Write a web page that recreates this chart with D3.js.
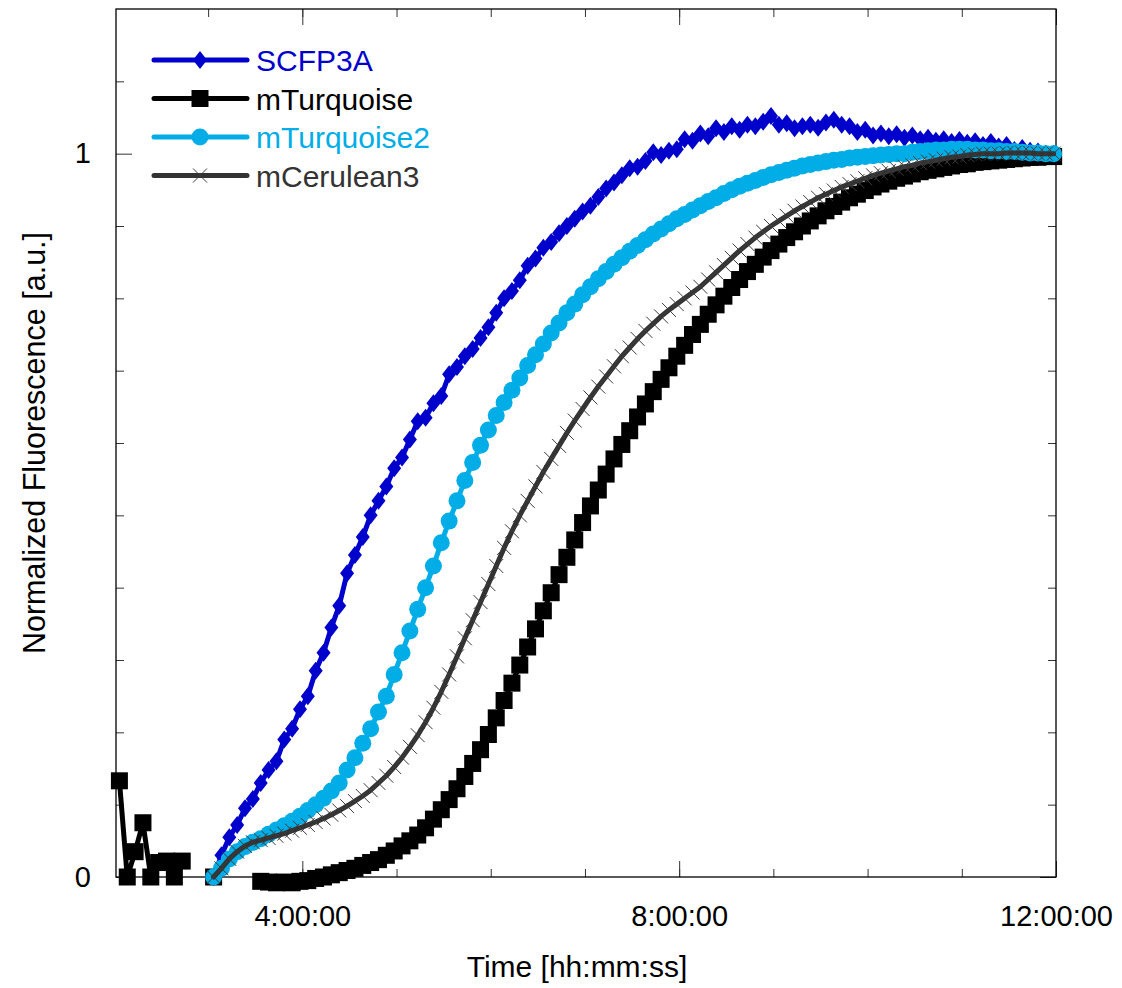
<!DOCTYPE html>
<html>
<head>
<meta charset="utf-8">
<script src="https://cdn.jsdelivr.net/npm/d3@7"></script>
<style>
  body { margin: 0; background: #fff; }
  svg { display: block; font-family: 'Liberation Sans', Arial, Helvetica, sans-serif; }
</style>
</head>
<body>
<svg width="1122" height="988"></svg>
<script>
// one reading every 5 minutes, first reading at START_TIME
const START_TIME = '2:03:30';
const STEP_MIN = 5;
const X_DOMAIN = ['2:01:20', '12:00:00'];
const X_LABELS = ['4:00:00', '8:00:00', '12:00:00'];
const Y_DOMAIN = [0, 1.2];
const Y_LABELS = [0, 1];

const SERIES_NAMES = ['SCFP3A', 'mTurquoise', 'mTurquoise2', 'mCerulean3'];

const SCFP3A = [null, null, null, null, null, null, null, null, null, null, null, null,
  0, 0.03, 0.055, 0.072, 0.095, 0.108, 0.13, 0.148, 0.16, 0.19,
  0.205, 0.232, 0.25, 0.285, 0.31, 0.345, 0.375, 0.42, 0.445, 0.47,
  0.5, 0.52, 0.54, 0.565, 0.58, 0.605, 0.63, 0.635, 0.655, 0.665,
  0.695, 0.705, 0.72, 0.73, 0.745, 0.76, 0.78, 0.8, 0.81, 0.825,
  0.845, 0.855, 0.87, 0.878, 0.89, 0.9, 0.91, 0.92, 0.928, 0.94,
  0.952, 0.96, 0.97, 0.98, 0.982, 0.99, 1.002, 0.998, 1.004, 1.006,
  1.02, 1.018, 1.028, 1.024, 1.035, 1.03, 1.038, 1.033, 1.04, 1.038,
  1.044, 1.052, 1.04, 1.042, 1.035, 1.038, 1.04, 1.036, 1.043, 1.047,
  1.04, 1.038, 1.03, 1.033, 1.025, 1.028, 1.024, 1.027, 1.022, 1.025,
  1.02, 1.022, 1.018, 1.02, 1.016, 1.019, 1.015, 1.017, 1.012, 1.016,
  1.01, 1.012, 1.005, 1.008, 1.004, 1.003, 1.0, 1.0];

const M_TURQUOISE = [0.133, 0, 0.035, 0.075, 0, 0.02, 0.022, 0, 0.022, null, null, null,
  0, null, null, null, null, null, -0.006, -0.007, -0.008, -0.007,
  -0.008, -0.006, -0.005, -0.002, 0.0, 0.003, 0.006, 0.009, 0.012, 0.016,
  0.02, 0.024, 0.03, 0.036, 0.043, 0.05, 0.058, 0.068, 0.08, 0.093,
  0.107, 0.122, 0.139, 0.157, 0.176, 0.197, 0.22, 0.244, 0.268, 0.293,
  0.318, 0.343, 0.368, 0.393, 0.418, 0.442, 0.466, 0.49, 0.513, 0.535,
  0.557, 0.578, 0.598, 0.617, 0.636, 0.654, 0.671, 0.688, 0.704, 0.72,
  0.735, 0.75, 0.764, 0.778, 0.791, 0.803, 0.815, 0.826, 0.837, 0.847,
  0.857, 0.866, 0.875, 0.884, 0.892, 0.9, 0.907, 0.914, 0.921, 0.927,
  0.933, 0.939, 0.944, 0.949, 0.954, 0.958, 0.962, 0.966, 0.969, 0.972,
  0.975, 0.977, 0.979, 0.981, 0.983, 0.985, 0.986, 0.988, 0.989, 0.99,
  0.991, 0.992, 0.993, 0.994, 0.995, 0.995, 0.996, 0.996];

const M_TURQUOISE2 = [null, null, null, null, null, null, null, null, null, null, null, null,
  0, 0.012, 0.025, 0.035, 0.042, 0.048, 0.053, 0.059, 0.065, 0.071,
  0.077, 0.084, 0.092, 0.1, 0.109, 0.119, 0.13, 0.148, 0.165, 0.185,
  0.205, 0.228, 0.25, 0.28, 0.31, 0.34, 0.37, 0.4, 0.43, 0.462,
  0.492, 0.52, 0.548, 0.573, 0.597, 0.618, 0.638, 0.656, 0.673, 0.69,
  0.707, 0.722, 0.737, 0.752, 0.766, 0.78, 0.792, 0.805, 0.816, 0.827,
  0.837, 0.847, 0.856, 0.865, 0.873, 0.881, 0.889, 0.896, 0.903, 0.91,
  0.916, 0.922, 0.928, 0.934, 0.939, 0.945, 0.95, 0.955, 0.959, 0.963,
  0.967, 0.971, 0.974, 0.977, 0.98, 0.983, 0.985, 0.987, 0.989, 0.991,
  0.992, 0.994, 0.995, 0.996, 0.997, 0.998, 0.999, 1.0, 1.0, 1.002,
  1.003, 1.004, 1.005, 1.005, 1.006, 1.006, 1.006, 1.005, 1.005, 1.004,
  1.004, 1.003, 1.003, 1.002, 1.001, 1.001, 1.0, 1.0];

const M_CERULEAN3 = [null, null, null, null, null, null, null, null, null, null, null, null,
  0, 0.012, 0.025, 0.035, 0.043, 0.048, 0.051, 0.054, 0.057, 0.06,
  0.064, 0.068, 0.072, 0.076, 0.081, 0.086, 0.092, 0.098, 0.105, 0.112,
  0.12, 0.13, 0.14, 0.152, 0.165, 0.18, 0.196, 0.214, 0.234, 0.256,
  0.28, 0.305, 0.33, 0.355, 0.38, 0.405, 0.43, 0.455, 0.478, 0.5,
  0.52, 0.54, 0.56, 0.578, 0.596, 0.614, 0.631, 0.647, 0.663, 0.678,
  0.692, 0.706, 0.72, 0.732, 0.744, 0.755, 0.765, 0.775, 0.784, 0.792,
  0.8, 0.808, 0.816, 0.826, 0.836, 0.846, 0.856, 0.866, 0.875, 0.884,
  0.892, 0.9, 0.907, 0.914, 0.921, 0.927, 0.933, 0.939, 0.944, 0.949,
  0.954, 0.958, 0.962, 0.966, 0.97, 0.973, 0.976, 0.979, 0.982, 0.984,
  0.987, 0.989, 0.991, 0.993, 0.995, 0.996, 0.998, 0.999, 1.0, 1.0,
  1.0, 1.001, 1.001, 1.001, 1.001, 1.0, 1.0, 1.0];

const toSec = s => {
  const [h, m, sec] = s.split(':').map(Number);
  return h * 3600 + m * 60 + sec;
};
const fmtTime = t => {
  const h = Math.floor(t / 3600), m = Math.floor((t % 3600) / 60), s = t % 60;
  return `${h}:${String(m).padStart(2, '0')}:${String(s).padStart(2, '0')}`;
};

const TIMES = SCFP3A.map((d, i) => toSec(START_TIME) + i * STEP_MIN * 60);

const SVG = d3.select('svg');
const LEFT = 116, RIGHT = 1056, TOP = 9, BOTTOM = 877;
const FONT = 29;

const X_SCALE = d3.scaleLinear()
  .domain(X_DOMAIN.map(toSec))
  .range([LEFT, RIGHT]);
const Y_SCALE = d3.scaleLinear()
  .domain(Y_DOMAIN)
  .range([BOTTOM, TOP]);

SVG.append('rect')
  .attr('width', 1122).attr('height', 988).attr('fill', '#fff');

// hourly ticks, every 0.1 on y
const HOURS = d3.range(3, 12).map(h => h * 3600);
const MAJOR_X = X_LABELS.map(toSec);
const MINOR_Y = d3.range(1, 12).map(i => i / 10).filter(v => v !== 1);

function styleAxis(g) {
  g.select('.domain').remove();
  g.selectAll('.tick line').attr('stroke', '#333').attr('stroke-width', 1);
  g.selectAll('.tick text')
    .attr('fill', '#000')
    .style('font-size', FONT + 'px')
    .style('font-family', "'Liberation Sans', Arial, sans-serif");
}

// minor ticks on all four sides
SVG.append('g').attr('transform', `translate(0,${BOTTOM})`)
  .call(d3.axisBottom(X_SCALE).tickValues(HOURS).tickSize(-8).tickFormat(''))
  .call(styleAxis);
SVG.append('g').attr('transform', `translate(0,${TOP})`)
  .call(d3.axisTop(X_SCALE).tickValues(HOURS).tickSize(-8).tickFormat(''))
  .call(styleAxis);
SVG.append('g').attr('transform', `translate(${LEFT},0)`)
  .call(d3.axisLeft(Y_SCALE).tickValues(MINOR_Y).tickSize(-8).tickFormat(''))
  .call(styleAxis);
SVG.append('g').attr('transform', `translate(${RIGHT},0)`)
  .call(d3.axisRight(Y_SCALE).tickValues(MINOR_Y).tickSize(-8).tickFormat(''))
  .call(styleAxis);

// major ticks with labels
SVG.append('g').attr('transform', `translate(0,${BOTTOM})`)
  .call(d3.axisBottom(X_SCALE).tickValues(MAJOR_X).tickSize(-16).tickPadding(28).tickFormat(fmtTime))
  .call(styleAxis);
SVG.append('g').attr('transform', `translate(0,${TOP})`)
  .call(d3.axisTop(X_SCALE).tickValues(MAJOR_X).tickSize(-16).tickFormat(''))
  .call(styleAxis);
SVG.append('g').attr('transform', `translate(${LEFT},0)`)
  .call(d3.axisLeft(Y_SCALE).tickValues(Y_LABELS).tickSize(-16).tickPadding(25).tickFormat(d3.format('d')))
  .call(styleAxis);
SVG.append('g').attr('transform', `translate(${RIGHT},0)`)
  .call(d3.axisRight(Y_SCALE).tickValues(Y_LABELS).tickSize(-16).tickFormat(''))
  .call(styleAxis);

// frame
SVG.append('rect')
  .attr('x', LEFT).attr('y', TOP)
  .attr('width', RIGHT - LEFT).attr('height', BOTTOM - TOP)
  .attr('fill', 'none').attr('stroke', '#000').attr('stroke-width', 1.3);

// axis titles
SVG.append('text')
  .attr('x', 577).attr('y', 977)
  .attr('text-anchor', 'middle')
  .style('font-size', '30px')
  .text('Time [hh:mm:ss]');
SVG.append('text')
  .attr('transform', 'translate(45,443) rotate(-90)')
  .attr('text-anchor', 'middle')
  .style('font-size', '30.5px')
  .text('Normalized Fluorescence [a.u.]');

// marker drawers
const MARKERS = {
  diamond: (g, c) => g.append('path').attr('d', 'M0,-9L7,0L0,9L-7,0Z').attr('fill', c),
  square: (g, c) => g.append('rect').attr('x', -8.5).attr('y', -8.5).attr('width', 17).attr('height', 17).attr('fill', c),
  circle: (g, c) => g.append('circle').attr('r', 8.5).attr('fill', c),
  cross: (g, c) => g.append('path').attr('d', 'M-7,-7L7,7M-7,7L7,-7')
    .attr('stroke', c).attr('stroke-width', 1).attr('fill', 'none')
};

const SERIES = [
  { name: SERIES_NAMES[0], values: SCFP3A, color: '#0000cc', marker: 'diamond', markColor: '#0000cc' },
  { name: SERIES_NAMES[1], values: M_TURQUOISE, color: '#000000', marker: 'square', markColor: '#000000' },
  { name: SERIES_NAMES[2], values: M_TURQUOISE2, color: '#00ade6', marker: 'circle', markColor: '#00ade6' },
  { name: SERIES_NAMES[3], values: M_CERULEAN3, color: '#333333', marker: 'cross', markColor: '#3c3c3c' }
];

const LINE = d3.line()
  .defined(d => d.v !== null)
  .x(d => X_SCALE(d.t))
  .y(d => Y_SCALE(d.v));

const PLOT = SVG.append('g').attr('id', 'plot');

SERIES.forEach(s => {
  const pts = s.values.map((v, i) => ({ t: TIMES[i], v: v }));
  const g = PLOT.append('g').attr('id', s.name);
  g.append('path')
    .datum(pts)
    .attr('d', LINE)
    .attr('fill', 'none')
    .attr('stroke', s.color)
    .attr('stroke-width', 5)
    .attr('stroke-linejoin', 'round')
    .attr('stroke-linecap', 'round');
  pts.filter(p => p.v !== null).forEach(p => {
    const m = g.append('g').attr('transform', `translate(${X_SCALE(p.t)},${Y_SCALE(p.v)})`);
    MARKERS[s.marker](m, s.markColor);
  });
});

// legend
const LEGEND = SVG.append('g').attr('id', 'legend');
SERIES.forEach((s, i) => {
  const y = 60 + i * 38.5;
  LEGEND.append('line')
    .attr('x1', 154).attr('x2', 247).attr('y1', y).attr('y2', y)
    .attr('stroke', s.color).attr('stroke-width', 5).attr('stroke-linecap', 'round');
  const m = LEGEND.append('g').attr('transform', `translate(200,${y})`);
  MARKERS[s.marker](m, s.markColor);
  LEGEND.append('text')
    .attr('x', 256).attr('y', y + 11)
    .style('font-size', '30px')
    .attr('fill', s.color)
    .text(s.name);
});
</script>
</body>
</html>
